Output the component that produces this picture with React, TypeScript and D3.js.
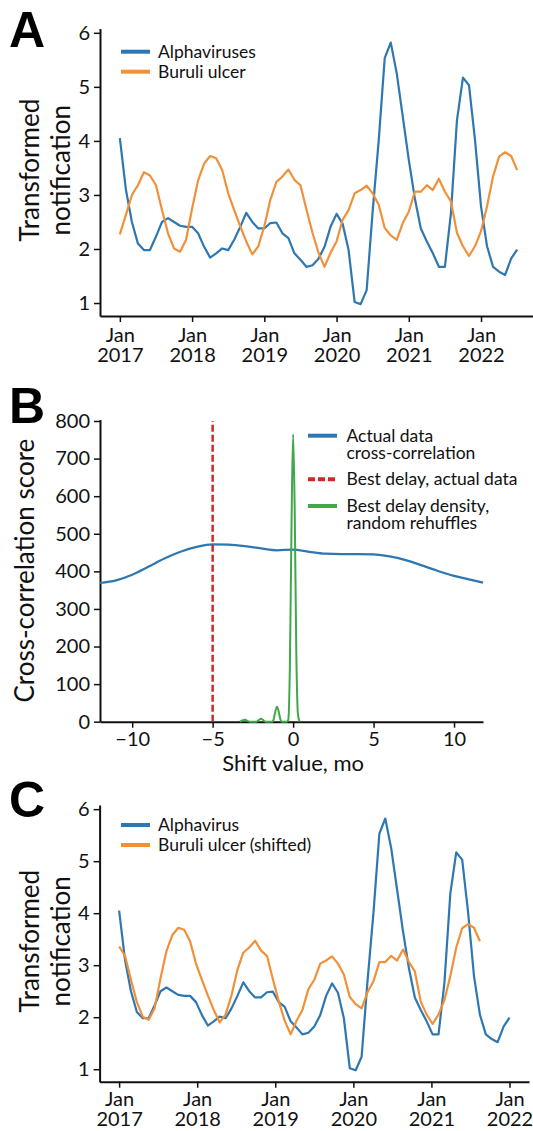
import React, { useEffect, useRef } from 'react';
import * as d3 from 'd3';

// monthly transformed notifications, Jan 2017 .. Jul 2022
const alphavirus = [
  4.05, 3.1, 2.5, 2.1, 1.98, 1.98, 2.23, 2.5, 2.57, 2.5, 2.43, 2.41,
  2.41, 2.29, 2.04, 1.84, 1.92, 2.01, 1.98, 2.17, 2.41, 2.67, 2.5, 2.38,
  2.38, 2.48, 2.49, 2.29, 2.2, 1.92, 1.8, 1.67, 1.7, 1.82, 2.04, 2.41,
  2.65, 2.47, 1.98, 1.02, 0.98, 1.24, 2.7, 4.0, 5.53, 5.82, 5.25, 4.45,
  3.65, 2.94, 2.38, 2.14, 1.92, 1.67, 1.67, 2.66, 4.38, 5.17, 5.03, 4.02,
  2.79, 2.05, 1.67, 1.58, 1.52, 1.82, 1.99,
];
const buruli = [
  2.27, 2.63, 3.0, 3.18, 3.42, 3.36, 3.18, 2.72, 2.29, 2.01, 1.95, 2.17,
  2.75, 3.27, 3.58, 3.72, 3.68, 3.46, 3.03, 2.72, 2.42, 2.14, 1.9, 2.05,
  2.42, 2.91, 3.24, 3.34, 3.47, 3.28, 3.18, 2.73, 2.3, 1.93, 1.67, 1.93,
  2.14, 2.54, 2.72, 3.03, 3.09, 3.17, 3.03, 2.82, 2.39, 2.25, 2.17, 2.48,
  2.69, 3.06, 3.06, 3.18, 3.09, 3.3, 3.06, 2.88, 2.3, 2.05, 1.87, 2.05,
  2.33, 2.79, 3.34, 3.71, 3.79, 3.72, 3.46,
];
const SHIFT = 5;
const buruliShifted = buruli.slice(SHIFT);
const years = ['2017', '2018', '2019', '2020', '2021', '2022'];
const yTicks = [1, 2, 3, 4, 5, 6];

// panel B
const lagShifts = [-12, -11, -10, -9, -8, -7, -6, -5, -4, -3, -2, -1, 0, 1, 2, 3, 4, 5, 6, 7, 8, 9, 10, 11, 11.8];
const crossCorr = [369, 376, 391, 412, 434, 452, 465, 472, 471, 467, 461, 456, 458, 452, 447, 446, 446, 445, 440, 430, 416, 401, 388, 378, 370];
const densityShifts = [-3.3, -3.0, -2.7, -2.3, -2.0, -1.7, -1.3, -1.2, -1.1, -1.0, -0.9, -0.8, -0.7, -0.4, -0.3, -0.2, -0.1, 0.0, 0.1, 0.2, 0.3, 0.4];
const density = [0, 5, 0, 0, 8, 0, 0, 8, 28, 40, 28, 8, 0, 0, 5, 150, 520, 765, 560, 180, 20, 0];
const bestDelay = -5;

const BLUE = '#2f77b0';
const ORANGE = '#f0913a';
const GREEN = '#3fa84a';
const RED = '#d62728';
const FONT = 'Lato, "Open Sans", sans-serif';
const INK = '#111';

const styleAxis = (g, fs = 20) => {
  g.attr('font-family', FONT).attr('font-size', fs);
  g.select('.domain').attr('stroke', INK).attr('stroke-width', 2);
  g.selectAll('.tick line').attr('stroke', INK).attr('stroke-width', 1.5);
  g.selectAll('.tick text').attr('fill', INK);
};

const drawLetter = (svg, letter, y) => {
  svg.append('text').attr('x', 9).attr('y', y)
    .attr('font-family', '"Liberation Sans", Arial, sans-serif')
    .attr('font-weight', 'bold').attr('font-size', 50).attr('fill', '#000')
    .text(letter);
};

const drawLegend = (svg, items, x0, x1, tx) => {
  items.forEach((it) => {
    if (it.color) {
      svg.append('line').attr('x1', x0).attr('x2', x1).attr('y1', it.y).attr('y2', it.y)
        .attr('stroke', it.color).attr('stroke-width', 4)
        .attr('stroke-dasharray', it.dash || null);
    }
    svg.append('text').attr('x', tx).attr('y', it.y).attr('dy', '0.35em')
      .attr('font-family', FONT).attr('font-size', 17.5).attr('fill', INK)
      .text(it.label);
  });
};

const drawTimePanel = (svg, o) => {
  const n = alphavirus.length;
  const pad = 0.05 * (n - 1);
  const x = d3.scaleLinear().domain([-pad, n - 1 + pad]).range(o.xRange);
  const y = d3.scaleLinear().domain([0.76, 6.08]).range([o.bottom, o.top]);

  const yAx = svg.append('g').attr('transform', `translate(${o.xRange[0]},0)`)
    .call(d3.axisLeft(y).tickValues(yTicks).tickFormat(d3.format('d'))
      .tickSize(6).tickPadding(4).tickSizeOuter(0));
  styleAxis(yAx);

  const xAx = svg.append('g').attr('transform', `translate(0,${o.bottom})`)
    .call(d3.axisBottom(x).tickValues(o.xTicks).tickSize(6).tickSizeOuter(0).tickFormat(() => ''));
  styleAxis(xAx);
  xAx.selectAll('.tick text').each(function (d, i) {
    const t = d3.select(this).attr('y', null).attr('dy', null);
    t.append('tspan').attr('x', 0).attr('y', o.janY).text('Jan');
    t.append('tspan').attr('x', 0).attr('y', o.janY + 20).text(years[i]);
  });

  const line = d3.line().x((d, i) => x(i)).y((d) => y(d));
  o.series.forEach((s) => {
    svg.append('path').datum(s.values).attr('d', line)
      .attr('fill', 'none').attr('stroke', s.color).attr('stroke-width', 2.2)
      .attr('stroke-linejoin', 'round');
  });

  drawLegend(svg, o.series.map((s, i) => ({ label: s.label, color: s.color, y: o.legendY + i * 20 })), 121, 150, 158);

  const cy = (o.top + o.bottom) / 2 - 2;
  ['Transformed', 'notification'].forEach((t, i) => {
    svg.append('text').attr('transform', `translate(${38.5 + i * 31},${cy}) rotate(-90)`)
      .attr('text-anchor', 'middle').attr('font-family', FONT).attr('font-size', 26).attr('fill', INK)
      .text(t);
  });
  drawLetter(svg, o.letter, o.letterY);
};

const drawShiftPanel = (svg) => {
  const top = 419.5, bottom = 721.7;
  const x = d3.scaleLinear().domain([-12, 11.8]).range([100, 483]);
  const y = d3.scaleLinear().domain([0, 804]).range([bottom, top]);

  const yAx = svg.append('g').attr('transform', 'translate(100,0)')
    .call(d3.axisLeft(y).tickValues(d3.range(0, 801, 100)).tickSize(6).tickPadding(4).tickSizeOuter(0));
  styleAxis(yAx);
  const xAx = svg.append('g').attr('transform', `translate(0,${bottom})`)
    .call(d3.axisBottom(x).tickValues([-10, -5, 0, 5, 10]).tickSize(6).tickPadding(4).tickSizeOuter(0));
  styleAxis(xAx);

  const ccLine = d3.line().x((d, i) => x(lagShifts[i])).y((d) => y(d)).curve(d3.curveMonotoneX);
  svg.append('path').datum(crossCorr).attr('d', ccLine)
    .attr('fill', 'none').attr('stroke', BLUE).attr('stroke-width', 2.2);

  svg.append('line').attr('x1', x(bestDelay)).attr('x2', x(bestDelay))
    .attr('y1', y(0)).attr('y2', y(800))
    .attr('stroke', RED).attr('stroke-width', 2.5).attr('stroke-dasharray', '7,3');

  const dLine = d3.line().x((d, i) => x(densityShifts[i])).y((d) => y(d)).curve(d3.curveMonotoneX);
  svg.append('path').datum(density).attr('d', dLine)
    .attr('fill', 'none').attr('stroke', GREEN).attr('stroke-width', 2);

  drawLegend(svg, [
    { label: 'Actual data', color: BLUE, y: 435.7 },
    { label: 'cross-correlation', y: 453.3 },
    { label: 'Best delay, actual data', color: RED, dash: '7,3', y: 479.3 },
    { label: 'Best delay density,', color: GREEN, y: 506 },
    { label: 'random rehuffles', y: 523.3 },
  ], 308, 337, 346.5);

  svg.append('text').attr('x', x(0)).attr('y', 771).attr('text-anchor', 'middle')
    .attr('font-family', FONT).attr('font-size', 22).attr('fill', INK).text('Shift value, mo');
  svg.append('text').attr('transform', `translate(34,${(top + bottom) / 2}) rotate(-90)`)
    .attr('text-anchor', 'middle').attr('font-family', FONT).attr('font-size', 26).attr('fill', INK)
    .text('Cross-correlation score');
  drawLetter(svg, 'B', 423);
};

export default function App() {
  const ref = useRef(null);

  useEffect(() => {
    const svg = d3.select(ref.current);
    svg.selectAll('*').remove();
    const n = alphavirus.length;

    drawTimePanel(svg, {
      letter: 'A', letterY: 47, top: 28.5, bottom: 316, xRange: [100, 537], janY: 26,
      xTicks: d3.range(0, n, 12), legendY: 51.7,
      series: [
        { label: 'Alphaviruses', color: BLUE, values: alphavirus },
        { label: 'Buruli ulcer', color: ORANGE, values: buruli },
      ],
    });

    drawShiftPanel(svg);

    drawTimePanel(svg, {
      letter: 'C', letterY: 817, top: 805, bottom: 1081.7, xRange: [99.6, 529], janY: 24,
      xTicks: d3.range(6).map((i) => (i * (n - 1)) / 5), legendY: 825,
      series: [
        { label: 'Alphavirus', color: BLUE, values: alphavirus },
        { label: 'Buruli ulcer (shifted)', color: ORANGE, values: buruliShifted },
      ],
    });
  }, []);

  return (
    <svg ref={ref} width={533} height={1131}
      style={{ position: 'absolute', left: 0, top: 0, background: '#fff' }} />
  );
}
